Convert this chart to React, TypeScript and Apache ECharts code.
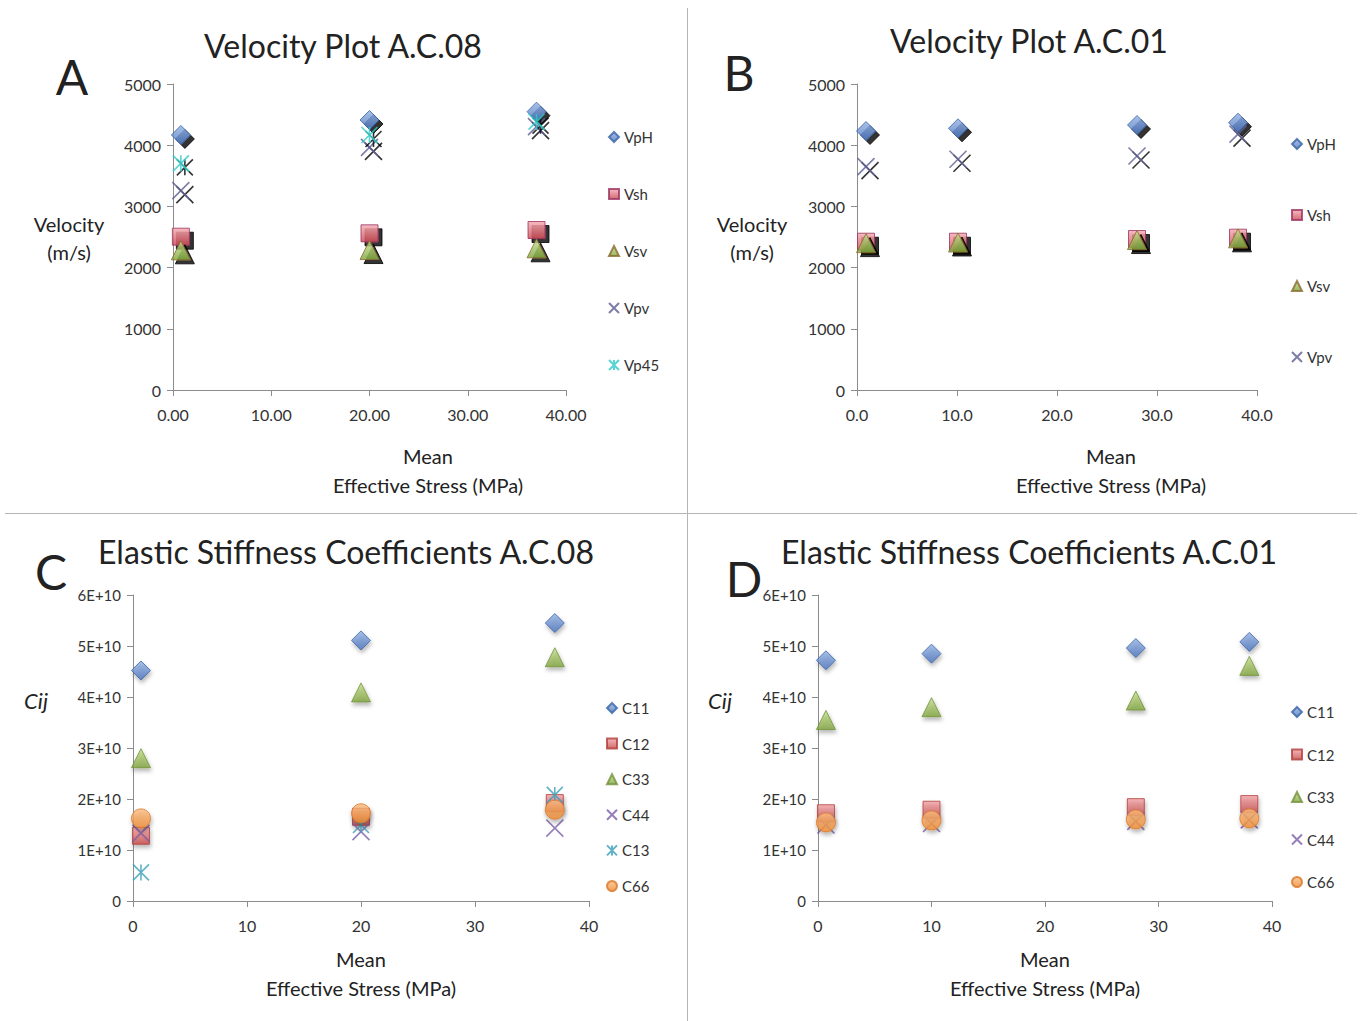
import React, { useEffect, useRef } from "react";
import * as echarts from "echarts";

// ---------- DATA ----------
const stressA = [0.8, 20.0, 37.0];
const vphA = [4167, 4412, 4548];
const vshA = [2505, 2560, 2614];
const vsvA = [2282, 2287, 2315];
const vpvA = [3257, 3965, 4303];
const vp45A = [3704, 4167, 4385];

const stressB = [0.9, 10.1, 28.0, 38.1];
const vphB = [4232, 4276, 4330, 4368];
const vshB = [2423, 2423, 2467, 2489];
const vsvB = [2400, 2410, 2450, 2478];
const vpvB = [3649, 3770, 3824, 4180];

const stressC = [0.7, 20.0, 37.0];
const c11C = [4.52e10, 5.11e10, 5.45e10];
const c12C = [1.28e10, 1.65e10, 1.92e10];
const c33C = [2.8e10, 4.09e10, 4.78e10];
const c44C = [1.33e10, 1.36e10, 1.43e10];
const c13C = [0.56e10, 1.49e10, 2.08e10];
const c66C = [1.62e10, 1.72e10, 1.79e10];

const stressD = [0.7, 10.0, 28.0, 38.0];
const c11D = [4.72e10, 4.85e10, 4.96e10, 5.08e10];
const c12D = [1.72e10, 1.79e10, 1.84e10, 1.9e10];
const c33D = [3.55e10, 3.8e10, 3.93e10, 4.61e10];
const c44D = [1.49e10, 1.52e10, 1.56e10, 1.59e10];
const c66D = [1.54e10, 1.58e10, 1.6e10, 1.62e10];

const legendA = ["VpH", "Vsh", "Vsv", "Vpv", "Vp45"];
const legendB = ["VpH", "Vsh", "Vsv", "Vpv"];
const legendC = ["C11", "C12", "C33", "C44", "C13", "C66"];
const legendD = ["C11", "C12", "C33", "C44", "C66"];

const titles = [
  "Velocity Plot A.C.08",
  "Velocity Plot A.C.01",
  "Elastic Stiffness Coefficients A.C.08",
  "Elastic Stiffness Coefficients A.C.01",
];

const FONT = "Lato, 'Open Sans', sans-serif";
const X_PATH = "path://M0,0L10,10M10,0L0,10";
const STAR_PATH = "path://M5,0L5,10M0,0L10,10M10,0L0,10";

const grad = (top: string, bottom: string) => ({
  type: "linear",
  x: 0,
  y: 0,
  x2: 0,
  y2: 1,
  colorStops: [
    { offset: 0, color: top },
    { offset: 1, color: bottom },
  ],
});

const hardShadow = { shadowColor: "#000", shadowBlur: 0, shadowOffsetX: 4, shadowOffsetY: 4 };
const softShadow = { shadowColor: "rgba(0,0,0,0.35)", shadowBlur: 4, shadowOffsetX: 1, shadowOffsetY: 3 };

const styles: Record<string, any> = {
  diamond: { symbol: "diamond", size: 19, item: { color: grad("#93b1e2", "#4a74bd"), borderColor: "#3a63a6", borderWidth: 1 } },
  square: { symbol: "rect", size: 17, item: { color: grad("#f4a9b0", "#c94650"), borderColor: "#9b3160", borderWidth: 1 } },
  triangleA: { symbol: "triangle", size: 19, item: { color: grad("#c6df8e", "#7ba43a"), borderColor: "#8a6a2c", borderWidth: 1 } },
  triangleC: { symbol: "triangle", size: 19, item: { color: grad("#c2dc88", "#7fa33d"), borderColor: "#71923a", borderWidth: 1 } },
  circle: { symbol: "circle", size: 19, item: { color: grad("#fbbd82", "#ef8a30"), borderColor: "#d9782a", borderWidth: 1 } },
  squareC: { symbol: "rect", size: 17, item: { color: grad("#f3a2a6", "#c44a48"), borderColor: "#b03c3a", borderWidth: 1 } },
};

function mkSeries(name: string, gi: number, xs: number[], ys: number[], st: any, shadow: any, z = 2) {
  return {
    type: "scatter",
    name,
    xAxisIndex: gi,
    yAxisIndex: gi,
    data: xs.map((x, i) => [x, ys[i]]),
    symbol: st.symbol,
    symbolSize: st.size,
    z,
    itemStyle: { ...st.item, ...shadow },
    emphasis: { disabled: true },
  };
}

function mkLine(name: string, gi: number, xs: number[], ys: number[], path: string, color: string, size: number, shadow: any, z = 3) {
  return {
    type: "scatter",
    name,
    xAxisIndex: gi,
    yAxisIndex: gi,
    data: xs.map((x, i) => [x, ys[i]]),
    symbol: path,
    symbolSize: size,
    z,
    itemStyle: { color: "rgba(0,0,0,0)", borderColor: color, borderWidth: 1.6, ...shadow },
    emphasis: { disabled: true },
  };
}

const axisCommon = {
  axisLine: { show: true, lineStyle: { color: "#8c8c8c", width: 1 } },
  axisTick: { show: true, inside: false, length: 6, lineStyle: { color: "#8c8c8c" } },
  splitLine: { show: false },
  axisLabel: { color: "#333", fontFamily: FONT, fontSize: 16 },
};

const grids = [
  { left: 173, top: 84, width: 393, height: 306 },
  { left: 857, top: 84, width: 400, height: 306 },
  { left: 133, top: 595, width: 456, height: 306 },
  { left: 818, top: 595, width: 454, height: 306 },
];

const xFormatters = [
  (v: number) => v.toFixed(2),
  (v: number) => v.toFixed(1),
  (v: number) => String(v),
  (v: number) => String(v),
];

const plainFmt = (v: number) => String(v);
const eFmt = (v: number) => (v === 0 ? "0" : `${Math.round(v / 1e10)}E+10`);

function legend(data: string[], left: number, top: number, gap: number) {
  return {
    data,
    orient: "vertical",
    left,
    top,
    itemWidth: 10,
    itemHeight: 10,
    itemGap: gap,
    itemTextGap: 4,
    selectedMode: false,
    textStyle: { fontFamily: FONT, fontSize: 15, color: "#333", lineHeight: 15 },
    itemStyle: { shadowBlur: 0, shadowOffsetX: 0, shadowOffsetY: 0, shadowColor: "rgba(0,0,0,0)" },
  };
}

function text(str: string, x: number, y: number, size: number, extra: any = {}) {
  return {
    type: "text",
    x,
    y,
    silent: true,
    style: {
      text: str,
      fontFamily: FONT,
      fontSize: size,
      fill: "#222",
      align: "center",
      verticalAlign: "middle",
      ...extra,
    },
  };
}

export default function App() {
  const ref = useRef<HTMLDivElement>(null);
  useEffect(() => {
    document.body.style.margin = "0";
    const chart = echarts.init(ref.current!, null, { renderer: "svg" });
    const option: any = {
      animation: false,
      backgroundColor: "#fff",
      grid: grids,
      xAxis: grids.map((_, i) => ({
        type: "value",
        gridIndex: i,
        min: 0,
        max: 40,
        interval: 10,
        ...axisCommon,
        axisLabel: { ...axisCommon.axisLabel, margin: 16, formatter: xFormatters[i] },
      })),
      yAxis: grids.map((_, i) => ({
        type: "value",
        gridIndex: i,
        min: 0,
        max: i < 2 ? 5000 : 6e10,
        interval: i < 2 ? 1000 : 1e10,
        ...axisCommon,
        axisLabel: { ...axisCommon.axisLabel, margin: 12, fontSize: i < 2 ? 16 : 15, formatter: i < 2 ? plainFmt : eFmt },
      })),
      legend: [
        legend(legendA, 603, 124.5, 42),
        legend(legendB, 1286, 131.5, 56),
        legend(legendC, 601, 695.5, 20.6),
        legend(legendD, 1286, 699.5, 27.5),
      ],
      series: [
        // A
        mkSeries("VpH", 0, stressA, vphA, styles.diamond, hardShadow),
        mkSeries("Vsh", 0, stressA, vshA, styles.square, hardShadow),
        mkSeries("Vsv", 0, stressA, vsvA, styles.triangleA, hardShadow, 3),
        mkLine("Vpv", 0, stressA, vpvA, X_PATH, "#5d5d92", 17, hardShadow),
        mkLine("Vp45", 0, stressA, vp45A, STAR_PATH, "#2ec9c9", 16, hardShadow, 4),
        // B
        mkSeries("VpH", 1, stressB, vphB, styles.diamond, hardShadow),
        mkSeries("Vsh", 1, stressB, vshB, styles.square, hardShadow),
        mkSeries("Vsv", 1, stressB, vsvB, styles.triangleA, hardShadow, 3),
        mkLine("Vpv", 1, stressB, vpvB, X_PATH, "#5d5d92", 17, hardShadow),
        // C
        mkSeries("C11", 2, stressC, c11C, styles.diamond, softShadow),
        mkSeries("C12", 2, stressC, c12C, styles.squareC, softShadow),
        mkSeries("C33", 2, stressC, c33C, styles.triangleC, softShadow),
        mkLine("C44", 2, stressC, c44C, X_PATH, "#7b5ea8", 17, {}),
        mkLine("C13", 2, stressC, c13C, STAR_PATH, "#3a9fb8", 16, {}),
        mkSeries("C66", 2, stressC, c66C, styles.circle, softShadow, 5),
        // D
        mkSeries("C11", 3, stressD, c11D, styles.diamond, softShadow),
        mkSeries("C12", 3, stressD, c12D, styles.squareC, softShadow),
        mkSeries("C33", 3, stressD, c33D, styles.triangleC, softShadow),
        mkLine("C44", 3, stressD, c44D, X_PATH, "#7b5ea8", 17, {}),
        mkSeries("C66", 3, stressD, c66D, styles.circle, softShadow, 5),
      ],
      graphic: [
        { type: "line", silent: true, shape: { x1: 687.5, y1: 8, x2: 687.5, y2: 1021 }, style: { stroke: "#b5b5b5", lineWidth: 1 } },
        { type: "line", silent: true, shape: { x1: 5, y1: 513.5, x2: 1357, y2: 513.5 }, style: { stroke: "#b5b5b5", lineWidth: 1 } },
        text(titles[0], 343, 45, 32),
        text(titles[1], 1029, 40, 32),
        text(titles[2], 346, 551, 32),
        text(titles[3], 1029, 551, 32),
        text("A", 72, 76, 48),
        text("B", 739, 72, 48),
        text("C", 51, 571, 48),
        text("D", 744, 578, 48),
        text("Velocity\n(m/s)", 69, 238, 20, { lineHeight: 28 }),
        text("Velocity\n(m/s)", 752, 238, 20, { lineHeight: 28 }),
        text("Cij", 36, 700, 22, { fontStyle: "italic" }),
        text("Cij", 720, 700, 22, { fontStyle: "italic" }),
        text("Mean\nEffective Stress (MPa)", 428, 470, 20, { lineHeight: 29 }),
        text("Mean\nEffective Stress (MPa)", 1111, 470, 20, { lineHeight: 29 }),
        text("Mean\nEffective Stress (MPa)", 361, 973, 20, { lineHeight: 29 }),
        text("Mean\nEffective Stress (MPa)", 1045, 973, 20, { lineHeight: 29 }),
      ],
    };
    chart.setOption(option);
    return () => chart.dispose();
  }, []);
  return <div ref={ref} style={{ position: "absolute", left: 0, top: 0, width: 1360, height: 1021 }} />;
}
